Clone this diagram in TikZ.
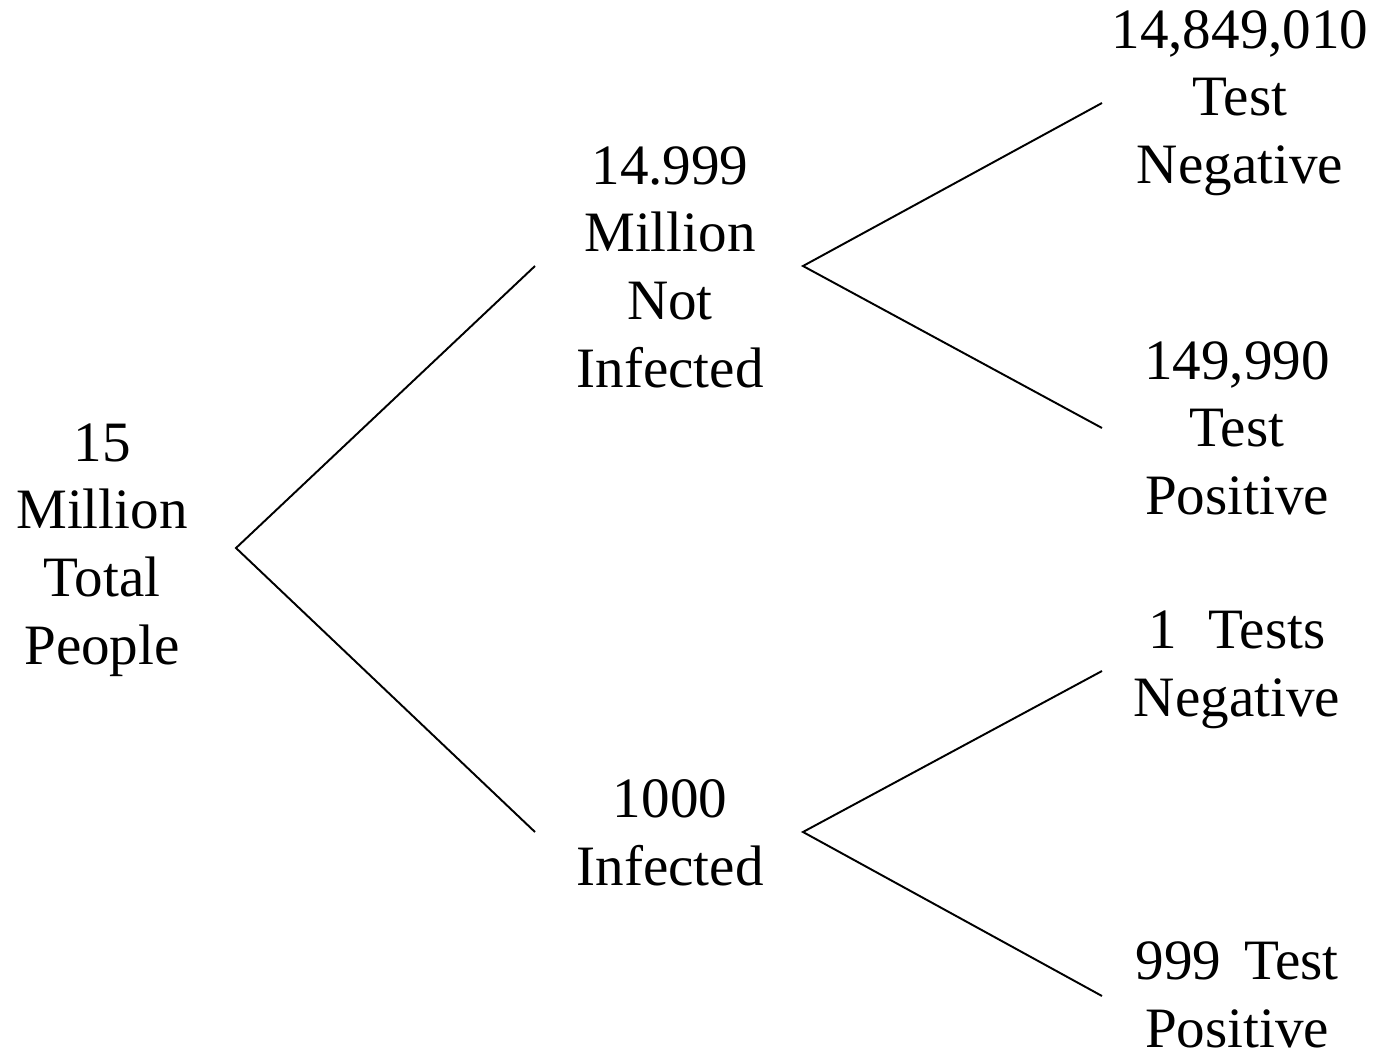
\documentclass[tikz,border=0pt]{standalone}
\usepackage{fontspec}
\setmainfont{Liberation Serif}
\begin{document}
\begin{tikzpicture}[x=0.02cm,y=-0.02cm,
  lbl/.style={align=center,inner sep=0pt,font=\fontsize{32.5}{38.5}\selectfont},
  branch/.style={line width=1.1pt,black}]
\useasboundingbox (0,0) rectangle (1386,1055);
% text nodes
\node[lbl] (root) at (102,550) {15\\Million\\Total\\People};
\node[lbl] (notinf) at (670,267) {14.999\\Million\\Not\\Infected};
\node[lbl] (inf) at (670,833) {1000\\Infected};
\node[lbl] (nn) at (1240,103) {14,849,010\\Test\\Negative};
\node[lbl] (np) at (1237,428) {149,990\\Test\\Positive};
\node[lbl] (in) at (1237,670) {1\hspace{0.55em}Tests\\Negative};
\node[lbl] (ip) at (1237,995) {999\hspace{0.4em}Test\\Positive};
% branch end points
\coordinate (r0) at (236,548);
\coordinate (u1) at (535,266);
\coordinate (l1) at (535,832);
\coordinate (u0) at (803,266);
\coordinate (l0) at (803,832);
\coordinate (nnE) at (1102,103);
\coordinate (npE) at (1102,428);
\coordinate (inE) at (1102,671);
\coordinate (ipE) at (1102,996);
% connectors
\draw[branch] (u1) -- (r0) -- (l1);
\draw[branch] (nnE) -- (u0) -- (npE);
\draw[branch] (inE) -- (l0) -- (ipE);
\end{tikzpicture}
\end{document}
